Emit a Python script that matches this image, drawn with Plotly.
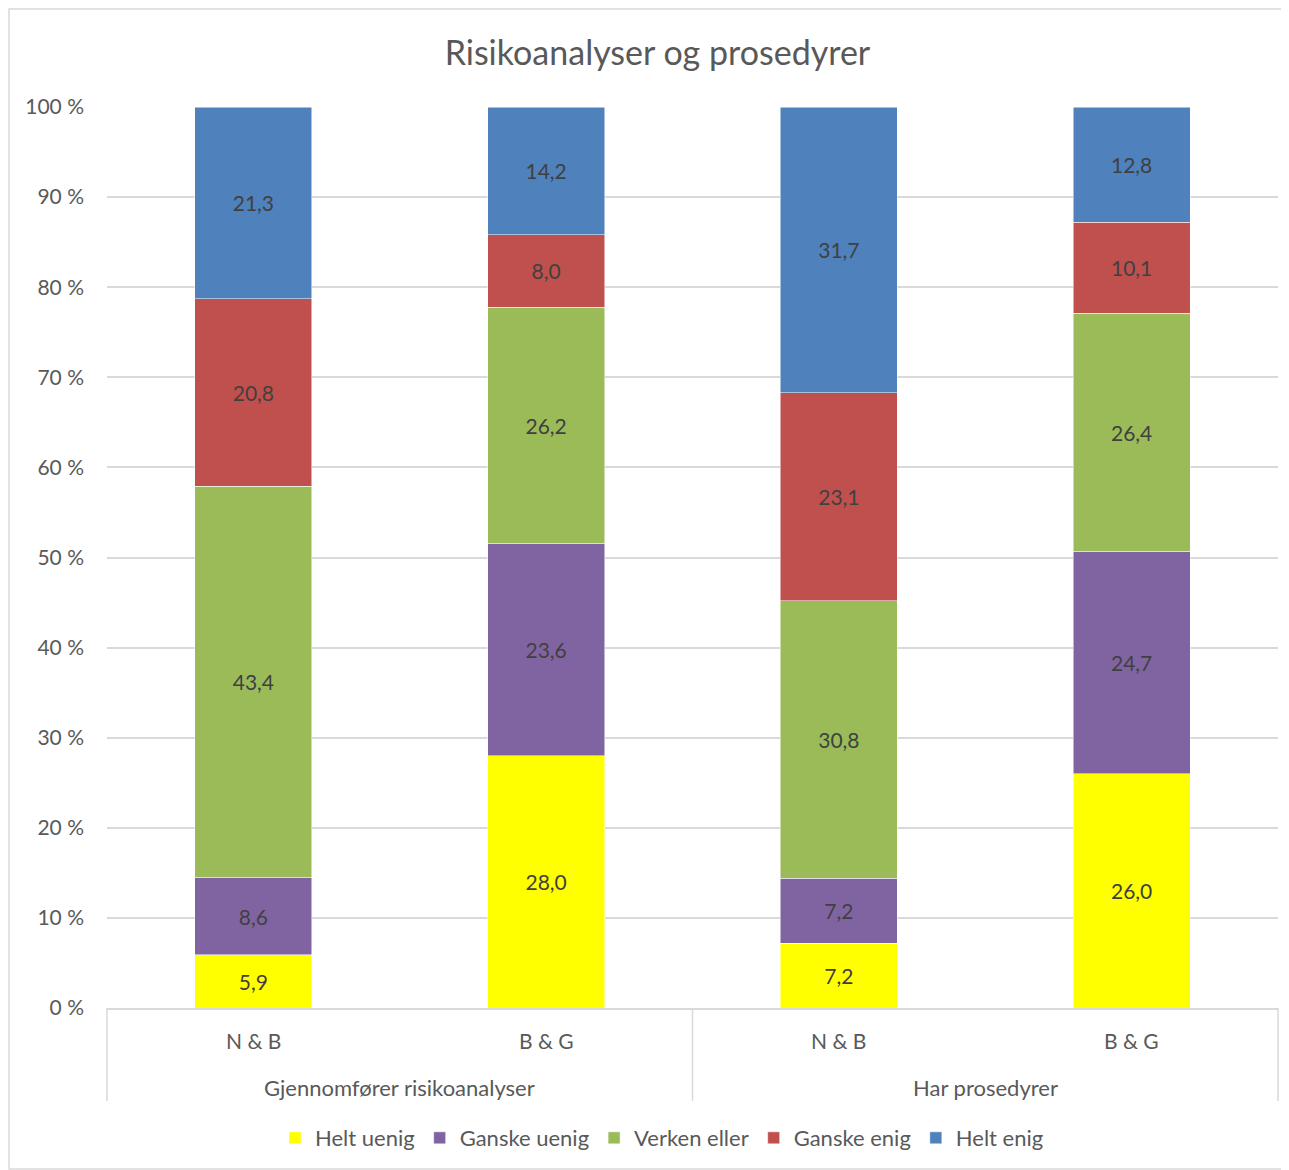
import plotly.graph_objects as go

groups = ["Gjennomfører risikoanalyser", "Gjennomfører risikoanalyser", "Har prosedyrer", "Har prosedyrer"]
subcats = ["N & B", "B & G", "N & B", "B & G"]
group_names = ["Gjennomfører risikoanalyser", "Har prosedyrer"]
series = ["Helt uenig", "Ganske uenig", "Verken eller", "Ganske enig", "Helt enig"]
helt_uenig = [5.9, 28.0, 7.2, 26.0]
ganske_uenig = [8.6, 23.6, 7.2, 24.7]
verken_eller = [43.4, 26.2, 30.8, 26.4]
ganske_enig = [20.8, 8.0, 23.1, 10.1]
helt_enig = [21.3, 14.2, 31.7, 12.8]
values = [helt_uenig, ganske_uenig, verken_eller, ganske_enig, helt_enig]
colors = ["#FFFF00", "#8064A2", "#9BBB59", "#C0504D", "#4F81BD"]
ytick_vals = [0, 10, 20, 30, 40, 50, 60, 70, 80, 90, 100]
ytick_text = [f"{v} %" for v in ytick_vals]

FONT = "Lato"
GRID = "#D9D9D9"
W, H = 1281, 1162            # page body has an 8px margin
ML, MR, MT, MB = 99, 11, 99, 162
PW, PH = W - ML - MR, H - MT - MB

fig = go.Figure()
for name, vals, col in zip(series, values, colors):
    fig.add_trace(go.Bar(
        x=[groups, subcats], y=vals, name=name,
        marker=dict(color=col, line=dict(color="white", width=0.5)),
        text=[f"{v:.1f}".replace(".", ",") for v in vals],
        textposition="inside", insidetextanchor="middle",
        textfont=dict(family=FONT, size=21, color="#404040"),
        constraintext="none",
    ))

fig.update_layout(
    barmode="stack", bargap=0.6,
    width=W, height=H,
    paper_bgcolor="white", plot_bgcolor="white",
    margin=dict(l=ML, r=MR, t=MT, b=MB, autoexpand=False),
    title=dict(text="Risikoanalyser og prosedyrer", x=0.507, xanchor="center",
               xref="container",
               y=1 - 45 / H, yanchor="middle",
               font=dict(family=FONT, size=34, color="#595959")),
    font=dict(family=FONT, size=21, color="#595959"),
    uniformtext=dict(mode=False),
    legend=dict(orientation="h", x=(654 - ML) / PW, xanchor="center",
                y=-130 / PH, yanchor="middle",
                font=dict(family=FONT, size=22, color="#595959"),
                itemwidth=30, traceorder="normal"),
    showlegend=True,
)
fig.update_xaxes(type="multicategory", showline=True, linecolor=GRID, linewidth=1.5,
                 showdividers=False, showticklabels=False,
                 ticks="", showgrid=False)
fig.update_yaxes(range=[0, 100], tickvals=ytick_vals, ticktext=ytick_text,
                 showgrid=True, gridcolor=GRID, gridwidth=1.5,
                 zeroline=False, showline=False, ticks="", ticklabelstandoff=22,
                 tickfont=dict(family=FONT, size=21, color="#595959"))

n = len(subcats)
for i, s in enumerate(subcats):
    fig.add_annotation(text=s, xref="paper", yref="paper", x=(i + 0.5) / n, y=-32 / PH,
                       xanchor="center", yanchor="middle", showarrow=False,
                       font=dict(family=FONT, size=21, color="#595959"))
ng = len(group_names)
for g, s in enumerate(group_names):
    fig.add_annotation(text=s, xref="paper", yref="paper", x=(g + 0.5) / ng, y=-79 / PH,
                       xanchor="center", yanchor="middle", showarrow=False,
                       font=dict(family=FONT, size=22, color="#595959"))
for g in range(ng + 1):
    fig.add_shape(type="line", xref="paper", yref="paper", x0=g / ng, x1=g / ng,
                  y0=0, y1=-93 / PH, line=dict(color=GRID, width=1.5))

fig.add_shape(type="rect", xref="paper", yref="paper",
              x0=-(ML - 1) / PW, x1=(W - 1 - ML) / PW,
              y0=-(MB - 1) / PH, y1=1 + (MT - 1) / PH,
              line=dict(color=GRID, width=1.5), fillcolor="rgba(0,0,0,0)", layer="below")

fig.write_html("out.html")
